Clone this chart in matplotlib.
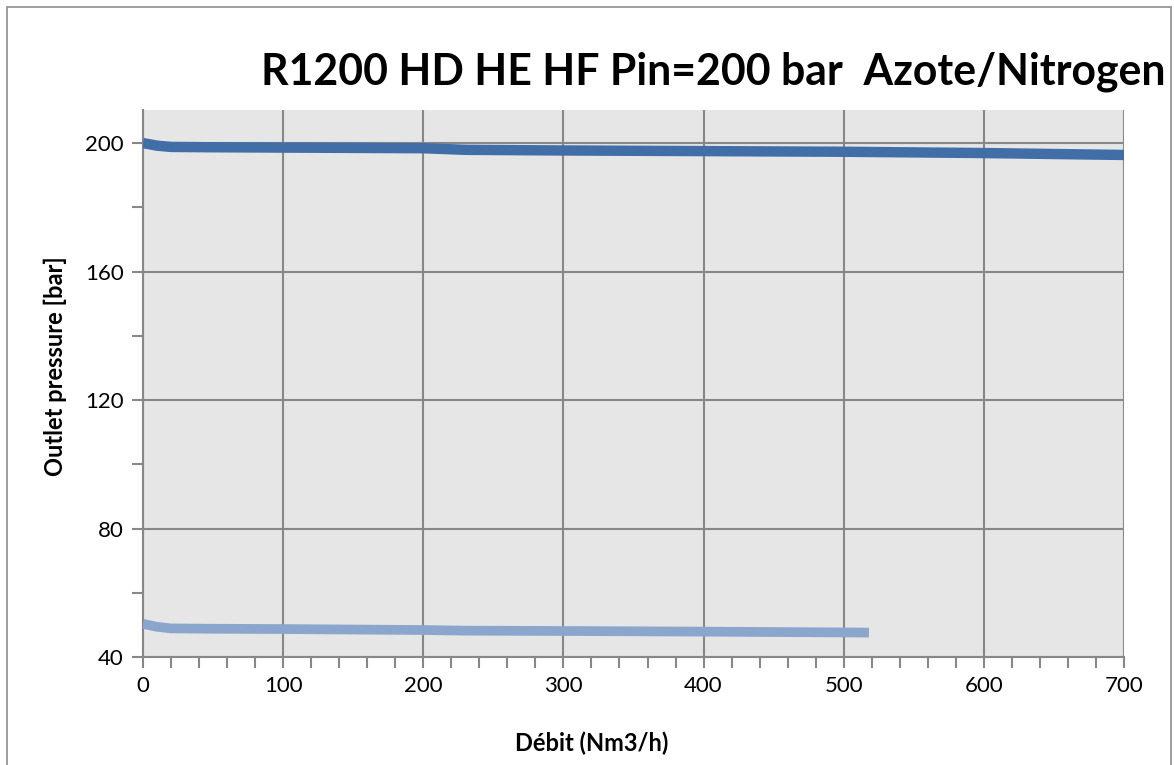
import matplotlib
matplotlib.use("Agg")
import matplotlib.pyplot as plt
from matplotlib.patches import Rectangle
from matplotlib.ticker import MultipleLocator

plt.rcParams["font.family"] = ["Lato", "DejaVu Sans"]

# Pin = 200 bar, setpoint 200 bar
flow_high = [0, 10, 20, 50, 100, 200, 230, 300, 400, 500, 600, 700]
p_high = [200.0, 199.2, 198.8, 198.7, 198.6, 198.4, 197.9, 197.7, 197.5, 197.3, 196.9, 196.3]

# Pin = 200 bar, setpoint 50 bar
flow_low = [0, 10, 20, 50, 100, 200, 230, 300, 400, 518]
p_low = [50.3, 49.4, 48.9, 48.8, 48.7, 48.4, 48.2, 48.1, 47.9, 47.6]

title = "R1200 HD HE HF Pin=200 bar  Azote/Nitrogen"

W, H = 1174, 765
fig = plt.figure(figsize=(W / 100, H / 100), dpi=100)
fig.patches.append(Rectangle((7 / W, -0.01), 1164 / W, 1 - 7 / H + 0.01,
                             transform=fig.transFigure, fill=False,
                             edgecolor="#8c8c8c", linewidth=1.2))

ax = fig.add_axes([143 / W, 1 - 657 / H, 981 / W, 547 / H])
ax.set_facecolor("#e6e6e6")

ax.plot(flow_high, p_high, color="#416ea6", linewidth=7.5, solid_capstyle="butt", zorder=3)
ax.plot(flow_low, p_low, color="#8ba6cd", linewidth=7, solid_capstyle="butt", zorder=3)

ax.set_xlim(0, 700)
ax.set_ylim(40, 210.3)
ax.xaxis.set_major_locator(MultipleLocator(100))
ax.xaxis.set_minor_locator(MultipleLocator(20))
ax.set_yticks([40, 80, 120, 160, 200])
ax.yaxis.set_minor_locator(MultipleLocator(20))

ax.grid(True, which="major", color="#878787", linewidth=1.5)
ax.set_axisbelow(True)
for side in ["top", "right"]:
    ax.spines[side].set_visible(False)
for side in ["left", "bottom"]:
    ax.spines[side].set_color("#878787")
    ax.spines[side].set_linewidth(1.5)

ax.tick_params(which="both", direction="out", color="#878787", width=1.5)
ax.tick_params(which="major", length=8, labelsize=16, pad=6)
ax.tick_params(which="minor", length=8)

# axis titles placed like the Excel chart (not centred on the plot area)
fig.text(592 / W, 1 - 743 / H, "Débit (Nm3/h)", fontsize=17, fontweight="bold",
         ha="center", va="center")
fig.text(55 / W, 1 - 366 / H, "Outlet pressure [bar]", fontsize=17, fontweight="bold",
         ha="center", va="center", rotation=90)

fig.text(713 / W, 1 - 85 / H, title, fontsize=30.8, fontweight="bold",
         ha="center", va="baseline")

fig.savefig("out.png", dpi=100)
